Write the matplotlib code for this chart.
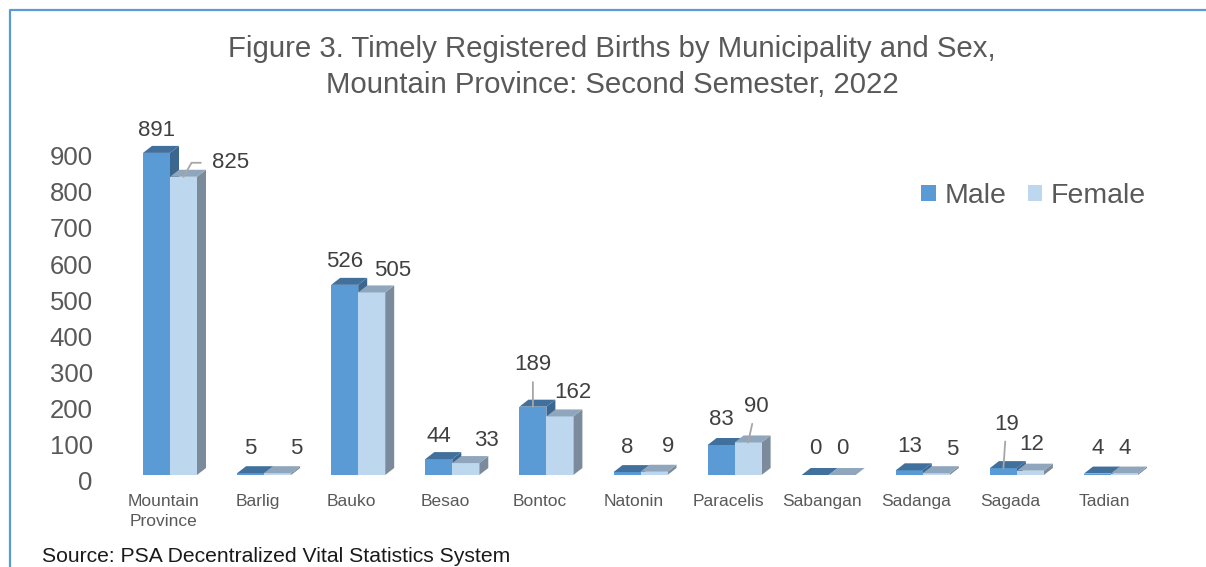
import numpy as np
import matplotlib
matplotlib.use("Agg")
import matplotlib.pyplot as plt
from matplotlib.patches import Polygon, Patch
from matplotlib.lines import Line2D
from matplotlib.transforms import ScaledTranslation

plt.rcParams['font.family'] = ['Liberation Sans', 'DejaVu Sans']

# ---------------- data ----------------
categories = ["Mountain\nProvince", "Barlig", "Bauko", "Besao", "Bontoc", "Natonin",
              "Paracelis", "Sabangan", "Sadanga", "Sagada", "Tadian"]
male = [891, 5, 526, 44, 189, 8, 83, 0, 13, 19, 4]
female = [825, 5, 505, 33, 162, 9, 90, 0, 5, 12, 4]
yticks = [0, 100, 200, 300, 400, 500, 600, 700, 800, 900]
title = "Figure 3. Timely Registered Births by Municipality and Sex,\nMountain Province: Second Semester, 2022"
source = "Source: PSA Decentralized Vital Statistics System"

# ---------------- label placement (offset pixels from front-top centre) ----
male_lab_dx = [0, 0, 0, 0, 0, 0, 0, 0, 0, 3, 0]
male_lab_dy = [22, 25, 23, 23, 42, 25, 25, 26, 24, 44, 25]
fem_lab_dx = [47, 19, 21, 21, 13, 14, 8, 0, 16, 1, 0]
fem_lab_dy = [14, 25, 22, 23, 24, 25, 36, 26, 24, 26, 25]
male_leader = [False, False, False, False, True, False, False, False, False, True, False]
fem_leader = [True, False, False, False, False, False, True, False, False, False, False]

# ---------------- style ----------------
W, H = 1206, 567
px_x = 94.1        # pixels per category
px_y = 0.3615      # pixels per unit value
c_male_front = "#5B9BD5"
c_male_top = "#41709C"
c_male_side = "#3A668F"
c_fem_front = "#BDD7EE"
c_fem_top = "#8FA6BC"
c_fem_side = "#7B8B9B"
grey_txt = "#595959"
lab_txt = "#404040"
leader_c = "#A6A6A6"

fig = plt.figure(figsize=(W / 100, H / 100), dpi=100)
ax_left, ax_bottom, ax_w, ax_h = 115, 92, 1085, 361.5
ax = fig.add_axes([ax_left / W, ax_bottom / H, ax_w / W, ax_h / H])
xmin = -55 / px_x
ax.set_xlim(xmin, xmin + ax_w / px_x)
ax.set_ylim(0, ax_h / px_y)

bw = 27 / px_x
ddx = 9 / px_x
ddy = 7 / px_y
x = np.arange(len(categories))


def bar3d(xc, v, front, top, side, z):
    l, r = xc - bw / 2, xc + bw / 2
    ax.add_patch(Polygon([(r, 0), (r + ddx, ddy), (r + ddx, v + ddy), (r, v)],
                         closed=True, facecolor=side, edgecolor='none', zorder=z))
    ax.bar(xc, v, width=bw, color=front, edgecolor='none', zorder=z + 0.1)
    ax.add_patch(Polygon([(l, v), (r, v), (r + ddx, v + ddy), (l + ddx, v + ddy)],
                         closed=True, facecolor=top, edgecolor='none', zorder=z + 0.2))


for i in range(len(categories)):
    xm = x[i] - bw / 2
    xf = x[i] + bw / 2
    bar3d(xm, male[i], c_male_front, c_male_top, c_male_side, 2)
    bar3d(xf, female[i], c_fem_front, c_fem_top, c_fem_side, 3)

    # male label
    ap = None
    if male_leader[i]:
        ap = dict(arrowstyle='-', color=leader_c, lw=1.3, shrinkA=3, shrinkB=0)
    ax.annotate(str(male[i]), xy=(xm, male[i]),
                xytext=(male_lab_dx[i], male_lab_dy[i]), textcoords='offset pixels',
                ha='center', va='center', fontsize=16, color=lab_txt,
                arrowprops=ap, zorder=5)
    ap = None
    if fem_leader[i]:
        cs = "angle,angleA=180,angleB=60,rad=0" if i == 0 else "arc3"
        ap = dict(arrowstyle='-', color=leader_c, lw=1.3, shrinkA=6 if i == 0 else 3,
                  shrinkB=0, connectionstyle=cs)
    ax.annotate(str(female[i]), xy=(xf, female[i]),
                xytext=(fem_lab_dx[i], fem_lab_dy[i]), textcoords='offset pixels',
                ha='center', va='center', fontsize=16, color=lab_txt,
                arrowprops=ap, zorder=5)

# axes styling
for s in ax.spines.values():
    s.set_visible(False)
ax.set_yticks(yticks)
ax.set_yticklabels([str(t) for t in yticks])
ax.tick_params(axis='y', length=0, pad=16, labelsize=18.5, labelcolor=grey_txt)
ax.set_xticks(x - 0.07)
ax.set_xticklabels(categories)
ax.tick_params(axis='x', length=0, pad=14, labelsize=12.5, labelcolor=grey_txt)
for lab in ax.get_xticklabels():
    lab.set_linespacing(1.35)
off = ScaledTranslation(0, -6 / 100, fig.dpi_scale_trans)
for lab in ax.get_yticklabels():
    lab.set_transform(lab.get_transform() + off)

# legend
handles = [Patch(facecolor=c_male_front, edgecolor='none', label='Male'),
           Patch(facecolor=c_fem_front, edgecolor='none', label='Female')]
fig.legend(handles=handles, loc='center left', bbox_to_anchor=(921 / W, 1 - 196 / H),
           ncol=2, frameon=False, fontsize=20.5, handlelength=0.52, handleheight=0.52,
           handletextpad=0.3, columnspacing=0.75, borderpad=0, borderaxespad=0,
           labelcolor=grey_txt)

# title
fig.text(612 / W, 1 - 67 / H, title, ha='center', va='center', fontsize=21.2,
         color=grey_txt, linespacing=1.38)

# source
fig.text(42 / W, 1 - 562 / H, source, ha='left', va='baseline', fontsize=15.2,
         color='#1a1a1a')

# frame line
fig.add_artist(Line2D([10 / W, 10 / W, 1.0], [0, 1 - 10 / H, 1 - 10 / H],
                      transform=fig.transFigure, color='#5B9BD5', lw=1.6))

fig.savefig("out.png", dpi=100)
